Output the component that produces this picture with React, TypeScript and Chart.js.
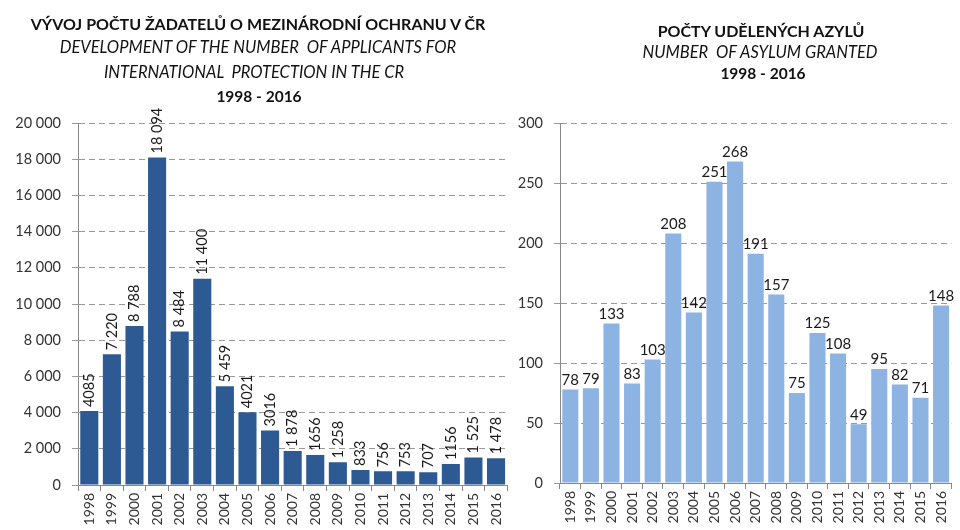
import React, { useEffect, useRef } from "react";
import { Chart, registerables } from "chart.js";

Chart.register(...registerables);

const FONT = "Lato, 'Open Sans', 'DejaVu Sans', sans-serif";

const years = ["1998", "1999", "2000", "2001", "2002", "2003", "2004", "2005", "2006", "2007", "2008", "2009", "2010", "2011", "2012", "2013", "2014", "2015", "2016"];

const applicants = [4085, 7220, 8788, 18094, 8484, 11400, 5459, 4021, 3016, 1878, 1656, 1258, 833, 756, 753, 707, 1156, 1525, 1478];
const applicantLabels = ["4085", "7 220", "8 788", "18 094", "8 484", "11 400", "5 459", "4021", "3016", "1 878", "1656", "1 258", "833", "756", "753", "707", "1156", "1 525", "1 478"];

const asylums = [78, 79, 133, 83, 103, 208, 142, 251, 268, 191, 157, 75, 125, 108, 49, 95, 82, 71, 148];
const asylumLabels = asylums.map((v) => String(v));

const leftTitle = ["VÝVOJ POČTU ŽADATELŮ O MEZINÁRODNÍ OCHRANU V ČR", "DEVELOPMENT OF THE NUMBER  OF APPLICANTS FOR", "INTERNATIONAL  PROTECTION IN THE CR", "1998 - 2016"];
const rightTitle = ["POČTY UDĚLENÝCH AZYLŮ", "NUMBER  OF ASYLUM GRANTED", "1998 - 2016"];

const fmtThousands = (v: number) => String(v).replace(/\B(?=(\d{3})+(?!\d))/g, " ");

function makeLabelPlugin(labels: string[], rotated: boolean, fontSize: number) {
  return {
    id: "valueLabels",
    afterDatasetsDraw(chart: any) {
      const ctx = chart.ctx;
      const meta = chart.getDatasetMeta(0);
      ctx.save();
      ctx.fillStyle = "#1a1a1a";
      ctx.font = `${fontSize}px ${FONT}`;
      meta.data.forEach((el: any, i: number) => {
        const x = el.x;
        const y = el.y;
        if (rotated) {
          ctx.save();
          ctx.translate(x, y - 4);
          ctx.rotate(-Math.PI / 2);
          ctx.textAlign = "left";
          ctx.textBaseline = "middle";
          ctx.fillText(labels[i], 0, 0);
          ctx.restore();
        } else {
          ctx.textAlign = "center";
          ctx.textBaseline = "bottom";
          ctx.fillText(labels[i], x, y - 2);
        }
      });
      ctx.restore();
    },
  };
}

type BarProps = {
  width: number;
  height: number;
  values: number[];
  valueLabels: string[];
  color: string;
  yMax: number;
  yStep: number;
  yWidth: number;
  xHeight: number;
  pad: { left: number; right: number; top: number; bottom: number };
  rotated: boolean;
  yFormat: (v: number) => string;
  barPct: number;
  labelSize: number;
};

function BarChart(p: BarProps) {
  const ref = useRef<HTMLCanvasElement | null>(null);
  useEffect(() => {
    if (!ref.current) return;
    const chart = new Chart(ref.current, {
      type: "bar",
      data: {
        labels: years,
        datasets: [
          {
            data: p.values,
            backgroundColor: p.color,
            borderWidth: 0,
            barPercentage: p.barPct,
            categoryPercentage: 1,
          },
        ],
      },
      options: {
        responsive: false,
        animation: false,
        devicePixelRatio: 1,
        layout: { padding: p.pad },
        plugins: { legend: { display: false }, tooltip: { enabled: false }, title: { display: false } },
        scales: {
          x: {
            offset: true,
            grid: { display: true, drawOnChartArea: false, drawTicks: true, tickLength: 6, color: "#888", offset: true },
            border: { display: true, color: "#888", width: 1 },
            ticks: { minRotation: 90, maxRotation: 90, autoSkip: false, color: "#333", font: { family: FONT, size: 14 }, padding: 2 },
            afterFit: (s: any) => {
              s.height = p.xHeight;
            },
          },
          y: {
            min: 0,
            max: p.yMax,
            ticks: {
              stepSize: p.yStep,
              color: "#333",
              font: { family: FONT, size: 14.5 },
              padding: 11,
              callback: (v: any) => p.yFormat(Number(v)),
            },
            grid: { color: "#999", tickLength: 6, drawTicks: true, tickBorderDash: [6, 4], tickColor: "#999" },
            border: { display: true, color: "#888", width: 1, dash: [6, 4] },
            afterFit: (s: any) => {
              s.width = p.yWidth;
            },
          },
        },
      } as any,
      plugins: [makeLabelPlugin(p.valueLabels, p.rotated, p.labelSize) as any],
    });
    return () => chart.destroy();
  }, []);
  return <canvas ref={ref} width={p.width} height={p.height} style={{ width: p.width, height: p.height, display: "block" }} />;
}

function TitleLine({ text, cx, cy, w, bold, italic, size }: { text: string; cx: number; cy: number; w: number; bold?: boolean; italic?: boolean; size: number }) {
  return (
    <div
      style={{
        position: "absolute",
        left: cx - w / 2,
        top: cy - 11,
        width: w,
        height: 22,
        lineHeight: "22px",
        textAlign: "center",
        fontFamily: FONT,
        fontSize: size,
        fontWeight: bold ? 700 : 400,
        fontStyle: italic ? "italic" : "normal",
        color: "#111",
        whiteSpace: "pre",
      }}
    >
      {text}
    </div>
  );
}

export default function App() {
  return (
    <div style={{ position: "fixed", left: 0, top: 0, width: 960, height: 530, background: "#fff", overflow: "hidden" }}>
      <div style={{ position: "absolute", left: 0, top: 0 }}>
        <BarChart
          width={515}
          height={530}
          values={applicants}
          valueLabels={applicantLabels}
          color="#2d5a93"
          yMax={20000}
          yStep={2000}
          yWidth={78}
          xHeight={45}
          pad={{ left: 0, right: 6, top: 123, bottom: 0 }}
          rotated={true}
          yFormat={fmtThousands}
          barPct={0.8}
          labelSize={14.5}
        />
      </div>
      <div style={{ position: "absolute", left: 515, top: 0 }}>
        <BarChart
          width={445}
          height={530}
          values={asylums}
          valueLabels={asylumLabels}
          color="#8db3e2"
          yMax={300}
          yStep={50}
          yWidth={45}
          xHeight={47}
          pad={{ left: 0, right: 5, top: 123, bottom: 0 }}
          rotated={false}
          yFormat={(v) => String(v)}
          barPct={0.78}
          labelSize={15}
        />
      </div>
      <TitleLine text={leftTitle[0]} cx={258} cy={24} w={520} bold size={16} />
      <TitleLine text={leftTitle[1]} cx={258} cy={47} w={520} italic size={16.5} />
      <TitleLine text={leftTitle[2]} cx={254} cy={72} w={520} italic size={16.5} />
      <TitleLine text={leftTitle[3]} cx={259} cy={96} w={200} bold size={15.5} />
      <TitleLine text={rightTitle[0]} cx={761} cy={31} w={300} bold size={16} />
      <TitleLine text={rightTitle[1]} cx={760} cy={52} w={300} italic size={16.5} />
      <TitleLine text={rightTitle[2]} cx={763} cy={73} w={200} bold size={15.5} />
    </div>
  );
}
